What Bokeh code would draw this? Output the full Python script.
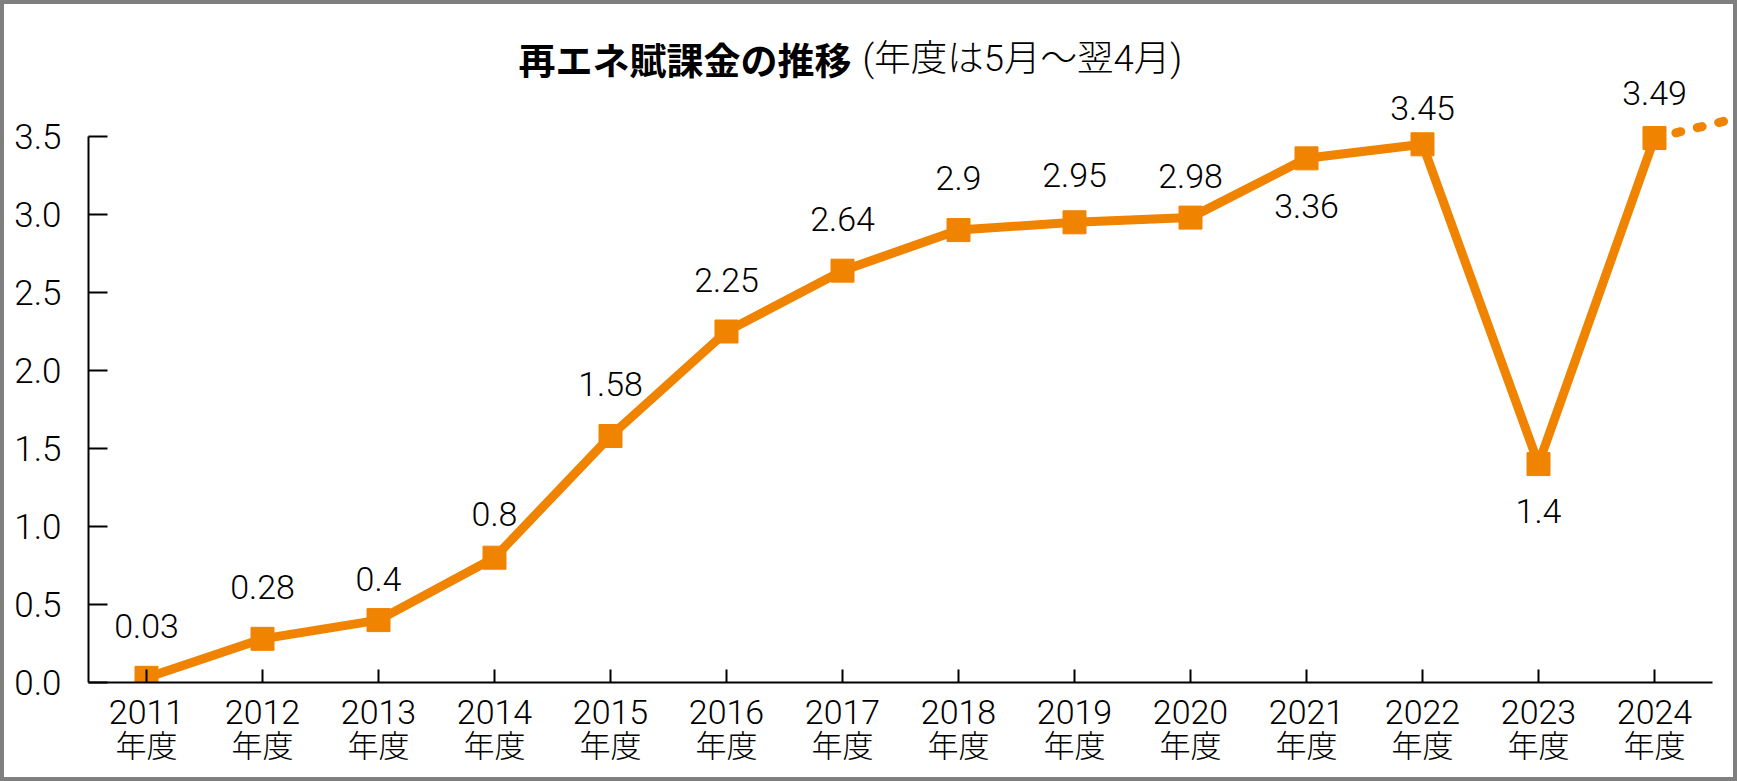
from bokeh.plotting import figure
from bokeh.layouts import column
from bokeh.models import ColumnDataSource, FixedTicker, PrintfTickFormatter, LinearAxis
from bokeh.core.properties import value
from bokeh.embed import file_html
from bokeh.resources import INLINE

# ---- data ----
years = ["2011", "2012", "2013", "2014", "2015", "2016", "2017",
         "2018", "2019", "2020", "2021", "2022", "2023", "2024"]
levy = [0.03, 0.28, 0.40, 0.80, 1.58, 2.25, 2.64,
        2.90, 2.95, 2.98, 3.36, 3.45, 1.40, 3.49]
year_suffix = "年度"
y_ticks = [0.0, 0.5, 1.0, 1.5, 2.0, 2.5, 3.0, 3.5]
labels_below = ["2021", "2023"]
trend_years = ["2024", "2025"]
trend_values = [3.49, 3.67]
title_bold = "再エネ賦課金の推移"
title_normal = "(年度は5月～翌4月)"

ORANGE = "#F08300"
NUM_FONT = "Roboto Light, Noto Sans, Noto Sans CJK JP Light, Noto Sans CJK JP"
JP_FONT = "Noto Sans CJK JP"

# ---- geometry (pixels) ----
BORDER = 4
W, H = 1737 - 2 * BORDER, 781 - 2 * BORDER
PX_X = 116.0      # pixels per category step
PX_Y = 156.0      # pixels per unit
MB_LEFT = 88 - BORDER
MB_BOTTOM = H - (682 - BORDER)
frame_w = W - MB_LEFT
frame_h = H - MB_BOTTOM
x_start = -0.5
x_end = x_start + frame_w / PX_X
y_end = frame_h / PX_Y

# distance (px) of each value label from its marker
label_gap_default = 52
label_gap = {"2013": 41, "2014": 44, "2019": 47, "2020": 42,
             "2021": 48, "2022": 36, "2023": 47, "2024": 45}

idx = list(range(len(years)))
src = ColumnDataSource(dict(
    x=idx,
    y=levy,
    label=[f"{v:g}" for v in levy],
    yoff=[(1 if yr in labels_below else -1) * label_gap.get(yr, label_gap_default)
          for yr in years],
))
trend_x = [years.index(trend_years[0]), years.index(trend_years[0]) + 1]

p = figure(width=W, height=H, x_range=(x_start, x_end), y_range=(0, y_end),
           output_backend="svg", toolbar_location=None, title=None,
           min_border_left=MB_LEFT, min_border_right=0,
           min_border_top=0, min_border_bottom=MB_BOTTOM)
p.background_fill_color = "white"
p.border_fill_color = "white"
p.outline_line_color = None
p.xgrid.grid_line_color = None
p.ygrid.grid_line_color = None

# second row of x labels (年度)
xa2 = LinearAxis()
p.add_layout(xa2, "below")

# axes
for ax in (p.xaxis[0], p.yaxis[0], xa2):
    ax.axis_line_color = "black"
    ax.axis_line_width = 2
    ax.major_tick_line_color = "black"
    ax.major_tick_line_width = 2
    ax.major_tick_out = 0
    ax.minor_tick_line_color = None
    ax.major_label_text_color = "black"
    ax.major_label_text_font = NUM_FONT

xa = p.xaxis[0]
xa.bounds = (-0.5, len(years) - 0.5)
xa.ticker = FixedTicker(ticks=idx)
xa.major_label_overrides = {i: yr for i, yr in zip(idx, years)}
xa.major_tick_in = 13
xa.major_label_text_font_size = "34px"
xa.major_label_standoff = 17

xa2.bounds = (-0.5, len(years) - 0.5)
xa2.ticker = FixedTicker(ticks=idx)
xa2.major_label_overrides = {i: year_suffix for i in idx}
xa2.axis_line_color = None
xa2.major_tick_line_color = None
xa2.major_tick_in = 0
xa2.major_label_text_font_size = "31px"
xa2.major_label_standoff = 1

ya = p.yaxis[0]
ya.bounds = (0, 3.5)
ya.ticker = FixedTicker(ticks=y_ticks)
ya.formatter = PrintfTickFormatter(format="%.1f")
ya.major_tick_in = 19
ya.major_label_text_font_size = "35px"
ya.major_label_standoff = 27

# series
p.line(trend_x, trend_values, line_color=ORANGE, line_width=9,
       line_dash="5 17", line_cap="round")
p.line("x", "y", source=src, line_color=ORANGE, line_width=9)
p.scatter("x", "y", source=src, marker="square", size=23,
          fill_color=ORANGE, line_color=ORANGE, line_width=1)
p.text("x", "y", text="label", source=src, y_offset="yoff",
       text_align="center", text_baseline="middle",
       text_font=value(NUM_FONT), text_font_size="34px", text_color="black")

# title (two styles on one line)
ty = (frame_h - (58 - BORDER)) / PX_Y
p.text(x=[(851 - 146) / PX_X], y=[ty], text=[title_bold],
       text_align="right", text_baseline="middle",
       text_font=value(JP_FONT), text_font_style="bold",
       text_font_size="37px", text_color="black")
p.text(x=[(862 - 146) / PX_X], y=[ty], text=[title_normal],
       text_align="left", text_baseline="middle",
       text_font=value(NUM_FONT), text_font_size="36.5px", text_color="black")

page = column(p, styles={"border": f"{BORDER}px solid #7f7f7f"})

open("out.html", "w").write(file_html(page, INLINE))
